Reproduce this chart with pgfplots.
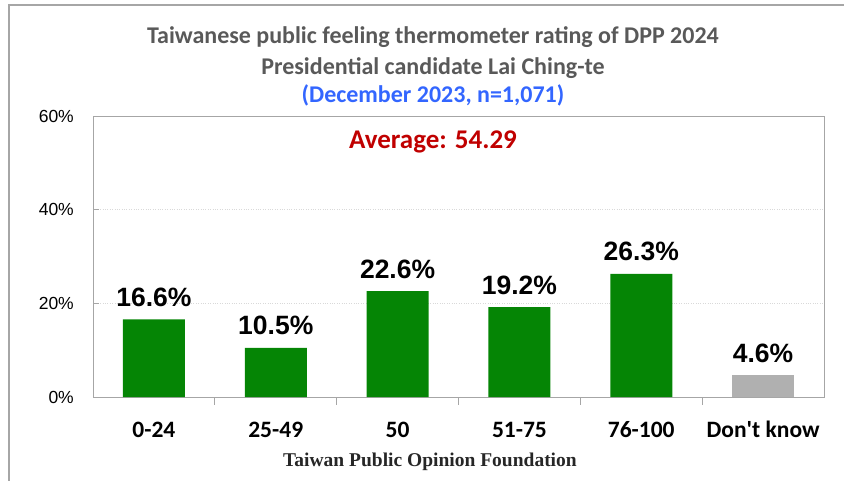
\documentclass[border=0pt]{standalone}
\usepackage{pgfplots}
\pgfplotsset{compat=1.18}
\usepackage{fontspec}
\setmainfont{Carlito}
\newfontfamily\arialfont{Liberation Sans}
\newfontfamily\timesfont{Liberation Serif}
\definecolor{titlegray}{HTML}{595959}
\definecolor{subblue}{HTML}{3366FF}
\definecolor{avgred}{HTML}{C00000}
\definecolor{bargreen}{HTML}{058505}
\definecolor{bargray}{HTML}{B0B0B0}
\definecolor{axisgray}{HTML}{A6A6A6}
\definecolor{gridgray}{HTML}{D9D9D9}
\begin{document}
\begin{tikzpicture}
\path[use as bounding box] (0,0) rectangle (844bp,481bp);
\draw[axisgray, line width=1.5bp] (9bp,0) -- (9bp,476bp) -- (844bp,476bp);
\begin{axis}[
  at={(93bp,84bp)}, anchor=south west,
  scale only axis, width=731bp, height=281bp,
  xmin=-0.5, xmax=5.5, ymin=0, ymax=60,
  axis line style={axisgray, line width=0.8bp},
  xtick={0,1,2,3,4,5},
  xticklabels={0-24,25-49,50,51-75,76-100,Don\textquotesingle t know},
  xtick style={draw=none},
  extra x ticks={0.5,1.5,2.5,3.5,4.5},
  extra x tick labels={},
  extra x tick style={xtick style={draw=axisgray, line width=0.8bp}, major tick length=8bp, grid=none},
  ytick={0,20,40,60},
  yticklabels={0\%,20\%,40\%,60\%},
  ytick style={draw=axisgray, line width=0.8bp},
  major tick length=6bp,
  tick align=inside,
  xtick pos=bottom, ytick pos=left,
  ymajorgrids, grid style={gridgray, dotted, line width=0.8bp},
  xticklabel style={font=\fontsize{23.5bp}{28bp}\selectfont\bfseries, anchor=base, yshift=-34bp, text=black},
  yticklabel style={font=\arialfont\fontsize{17.5bp}{20bp}\selectfont, anchor=east, inner sep=0pt, xshift=-19bp, text=black},
  ybar, bar width=62bp,
  nodes near coords={\pgfmathprintnumber[fixed,fixed zerofill,precision=1,assume math mode=true]{\pgfplotspointmeta}\%},
  every node near coord/.append style={font=\arialfont\bfseries\fontsize{26.5bp}{30bp}\selectfont, anchor=base, yshift=13bp, inner sep=0pt, text=black},
  clip=false,
]
\addplot[fill=bargreen, draw=none, bar shift=0pt] coordinates {(0,16.6) (1,10.5) (2,22.6) (3,19.2) (4,26.3)};
\addplot[fill=bargray, draw=none, bar shift=0pt] coordinates {(5,4.6)};
\end{axis}
\node[anchor=base, text=titlegray, font=\fontsize{24bp}{28bp}\selectfont\bfseries] at (433bp,437bp) {Taiwanese public feeling thermometer rating of DPP 2024};
\node[anchor=base, text=titlegray, font=\fontsize{24bp}{28bp}\selectfont\bfseries] at (433bp,406bp) {Presidential candidate Lai Ching-te};
\node[anchor=base, text=subblue, font=\fontsize{24bp}{28bp}\selectfont\bfseries] at (433bp,378bp) {(December 2023, n=1,071)};
\node[anchor=base, text=avgred, font=\fontsize{27bp}{30bp}\selectfont\bfseries] at (433bp,332bp) {Average: 54.29};
\node[anchor=base, text=black!85, font=\timesfont\bfseries\fontsize{19.5bp}{22bp}\selectfont] at (430bp,15bp) {Taiwan Public Opinion Foundation};
\end{tikzpicture}
\end{document}
